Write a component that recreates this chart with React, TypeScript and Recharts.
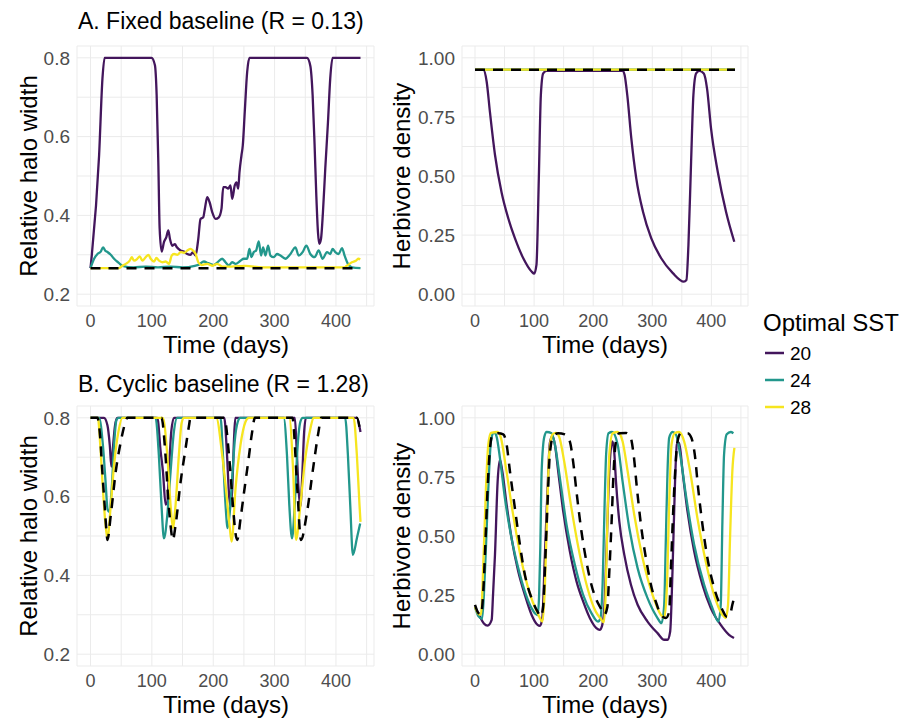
import React from 'react';
import { LineChart, Line, XAxis, YAxis, CartesianGrid } from 'recharts';

type Pt = [number, number];

// ---------- tick values ----------
const xTicks = [0, 50, 100, 150, 200, 250, 300, 350, 400, 450];
const haloTicks = [0.2, 0.3, 0.4, 0.5, 0.6, 0.7, 0.8];
const herbTicks = [0, 0.125, 0.25, 0.375, 0.5, 0.625, 0.75, 0.875, 1];
const sstLevels = ['20', '24', '28'];
const sstColors = ['#43165c', '#22978c', '#f6e51f'];

// ---------- A. Fixed baseline : relative halo width ----------
const fixedHalo20: Pt[] = [[0,0.266],[14,0.552],[19.5,0.748],[23,0.8],[99.5,0.8],[105,0.781],[107.8,0.705],[110.5,0.535],[112.7,0.366],[116,0.308],[119.7,0.332],[123.6,0.345],[126.8,0.362],[129.5,0.34],[133.3,0.323],[137.6,0.327],[140.8,0.319],[146.8,0.311],[152.2,0.308],[157.7,0.302],[163,0.3],[166.9,0.307],[171.2,0.298],[175.6,0.34],[179.3,0.391],[183.7,0.395],[186.4,0.417],[190.2,0.446],[194,0.434],[198.4,0.408],[203.7,0.391],[209.1,0.395],[213.5,0.417],[216.3,0.472],[220,0.472],[224.4,0.468],[228.1,0.476],[230.9,0.442],[235.1,0.476],[237.9,0.484],[240.7,0.468],[242.8,0.51],[246,0.552],[248.2,0.578],[251.4,0.663],[255.3,0.764],[259,0.8],[352.8,0.8],[358.2,0.78],[362,0.705],[365.2,0.578],[368,0.45],[370.7,0.357],[372.8,0.328],[375.6,0.34],[378.8,0.408],[382.6,0.519],[387,0.637],[390.7,0.748],[394.5,0.8],[440,0.8]];
const fixedHalo24: Pt[] = [[0,0.266],[5.9,0.29],[11.4,0.302],[16.7,0.308],[20.5,0.319],[23.8,0.311],[27.6,0.307],[33,0.3],[38.4,0.29],[46.5,0.279],[52,0.272],[70,0.268],[90,0.27],[110,0.268],[130,0.27],[150,0.268],[170,0.272],[176.6,0.275],[184.7,0.283],[191.7,0.279],[200.9,0.274],[206.3,0.28],[214.6,0.29],[220,0.281],[225.4,0.273],[230.9,0.281],[236.3,0.277],[244.4,0.285],[249.8,0.29],[255.3,0.29],[259,0.315],[262.3,0.294],[266.1,0.307],[269.9,0.311],[274.2,0.334],[278,0.298],[281.3,0.319],[285.1,0.298],[289.4,0.323],[293.2,0.298],[298.6,0.294],[304,0.302],[309.5,0.298],[317.6,0.29],[325.8,0.302],[333.9,0.319],[339.3,0.298],[345.8,0.307],[351.8,0.323],[358.2,0.302],[365.3,0.294],[371.8,0.311],[378.3,0.29],[385.4,0.307],[390.8,0.302],[394.5,0.315],[398.9,0.307],[404.3,0.302],[409.8,0.317],[414.1,0.298],[419.5,0.277],[426,0.268],[440,0.266]];
const fixedHalo28: Pt[] = [[0,0.266],[46,0.266],[52,0.272],[57.4,0.277],[63.9,0.285],[67.2,0.294],[71,0.285],[76.4,0.29],[80.2,0.296],[84.6,0.285],[90,0.294],[94.3,0.3],[98.1,0.29],[103.6,0.283],[107.4,0.292],[111.7,0.285],[117.1,0.281],[122.5,0.283],[128,0.277],[132.3,0.298],[136.1,0.302],[141.5,0.3],[147,0.307],[152.4,0.305],[157.8,0.311],[163.3,0.315],[167,0.311],[171.4,0.302],[175.7,0.281],[181.1,0.274],[190.3,0.277],[198.4,0.272],[206.5,0.277],[214.6,0.27],[230,0.27],[252.6,0.272],[280,0.268],[320,0.268],[360,0.268],[414,0.268],[417.7,0.272],[426,0.281],[432.5,0.285],[436.8,0.29],[439.5,0.288]];
const fixedHaloBase: Pt[] = [[0,0.266],[440,0.266]];

// ---------- A. Fixed baseline : herbivore density ----------
const fixedHerb20: Pt[] = [[0,0.95],[14,0.95],[19.7,0.9],[25.3,0.77],[33.8,0.59],[45,0.43],[56.4,0.32],[67.5,0.237],[81.7,0.152],[95.7,0.096],[100.2,0.087],[104,0.124],[108,0.49],[111.4,0.84],[115.4,0.934],[121,0.945],[250,0.945],[253.2,0.927],[257.7,0.842],[264.5,0.66],[272.9,0.49],[284.2,0.35],[298.2,0.237],[315.1,0.152],[334.8,0.089],[353.4,0.053],[357.8,0.06],[361.2,0.208],[365.7,0.56],[369.6,0.842],[374.2,0.934],[379.7,0.945],[387.2,0.934],[392.7,0.87],[399.5,0.7],[410.8,0.518],[424.8,0.349],[438.8,0.222]];
const fixedHerb24: Pt[] = [[0,0.95],[440,0.95]];
const fixedHerb28: Pt[] = [[0,0.95],[440,0.95]];
const fixedHerbBase: Pt[] = [[0,0.95],[440,0.95]];

// ---------- B. Cyclic baseline : relative halo width ----------
const cyclicHalo20: Pt[] = [[0,0.8],[22,0.8],[27.6,0.781],[31.4,0.731],[34.1,0.676],[36.9,0.731],[40,0.781],[43.7,0.8],[108.9,0.8],[114.3,0.715],[118.1,0.663],[122.4,0.58],[125.2,0.585],[127.8,0.663],[131.6,0.765],[136,0.8],[218,0.8],[222,0.72],[226,0.6],[228.5,0.575],[231,0.62],[234,0.75],[236,0.8],[333,0.8],[336,0.72],[339,0.62],[342,0.575],[345,0.65],[348,0.76],[351,0.8],[434,0.8],[440,0.764]];
const cyclicHalo24: Pt[] = [[0,0.8],[14,0.8],[20.2,0.731],[24.6,0.637],[27.6,0.57],[30,0.562],[34.6,0.62],[38.4,0.731],[42.2,0.794],[45.5,0.8],[106,0.8],[111.4,0.705],[115.7,0.578],[119.7,0.494],[125.1,0.552],[130.5,0.663],[135.9,0.765],[141.3,0.8],[211.9,0.8],[216,0.7],[220,0.58],[223.5,0.52],[227,0.56],[231,0.65],[235,0.74],[240,0.79],[244,0.8],[314.8,0.8],[320.2,0.705],[324,0.578],[328.4,0.494],[332.8,0.578],[336.6,0.705],[342,0.79],[345.8,0.8],[415,0.8],[419.5,0.705],[423.3,0.578],[427.6,0.452],[434.1,0.494],[439.5,0.532]];
const cyclicHalo28: Pt[] = [[0,0.8],[12,0.8],[15.9,0.731],[20.2,0.62],[24.6,0.527],[27.6,0.494],[33,0.578],[38.4,0.68],[45.5,0.765],[52,0.8],[118,0.8],[125.1,0.705],[130.5,0.578],[134.2,0.521],[138.6,0.578],[144,0.705],[148.4,0.786],[152,0.8],[205,0.8],[215,0.7],[222,0.6],[227,0.52],[230,0.486],[236.3,0.62],[244.4,0.731],[252.6,0.79],[258,0.8],[324,0.8],[330.3,0.663],[335,0.49],[342,0.578],[350,0.697],[358,0.77],[363.5,0.8],[428.7,0.8],[434.1,0.705],[438.4,0.578],[440,0.536]];
const cyclicHaloBase: Pt[] = [[0,0.8],[11.4,0.8],[15,0.765],[19.3,0.663],[23,0.578],[25.7,0.519],[27.6,0.49],[33,0.552],[41.1,0.663],[49.3,0.739],[56.3,0.786],[60.1,0.8],[115.7,0.8],[122.2,0.705],[126.6,0.595],[130.5,0.527],[134.2,0.49],[138.6,0.527],[146.8,0.637],[154.9,0.722],[160.3,0.778],[163,0.8],[218,0.8],[226,0.7],[232,0.58],[236,0.51],[239,0.49],[245,0.55],[251,0.62],[258,0.7],[263,0.76],[268,0.8],[329,0.8],[337,0.62],[343,0.49],[352.8,0.56],[363.5,0.68],[371.6,0.765],[376,0.8],[434,0.8],[440,0.76]];

// ---------- B. Cyclic baseline : herbivore density ----------
const cyclicHerb20: Pt[] = [[0,0.2],[8,0.16],[15,0.13],[21.4,0.121],[28.2,0.145],[30.5,0.25],[33.8,0.42],[38.3,0.73],[42.2,0.823],[46.2,0.774],[53.5,0.633],[61.9,0.49],[73.2,0.35],[84.4,0.251],[95.7,0.167],[105.9,0.124],[109.8,0.12],[113.8,0.15],[118.3,0.42],[122.8,0.7],[126.7,0.894],[130.7,0.922],[135.2,0.887],[140.8,0.774],[149.3,0.604],[160.5,0.435],[171.8,0.308],[183,0.223],[194.3,0.153],[205.4,0.11],[211,0.103],[215,0.12],[219,0.2],[222,0.4],[226,0.7],[229.5,0.86],[232.5,0.9],[235.5,0.86],[238.6,0.73],[244.2,0.562],[252.7,0.42],[263.9,0.294],[275.2,0.209],[292,0.138],[308.9,0.089],[320.2,0.061],[325.8,0.061],[330.3,0.096],[334.2,0.35],[338.2,0.703],[341.6,0.887],[345.5,0.894],[351.2,0.774],[359.6,0.604],[370.9,0.435],[384.9,0.294],[399,0.195],[415.9,0.124],[429.9,0.082],[438.3,0.068]];
const cyclicHerb24: Pt[] = [[0,0.2],[6,0.16],[12,0.15],[15,0.25],[18,0.42],[22.5,0.7],[27,0.9],[31,0.935],[34,0.935],[36.6,0.92],[42.2,0.83],[50.6,0.66],[61.9,0.49],[73.2,0.364],[84.4,0.265],[95.7,0.195],[102.5,0.17],[106,0.165],[108.5,0.25],[110.5,0.45],[112.8,0.774],[117.3,0.92],[121.2,0.94],[129.7,0.935],[135.2,0.887],[143.6,0.746],[154.9,0.548],[169,0.378],[183,0.251],[197,0.174],[208.2,0.138],[212,0.15],[216,0.3],[219,0.6],[222,0.85],[226,0.935],[232,0.94],[241.4,0.887],[249.8,0.73],[261.1,0.534],[275.2,0.364],[292,0.237],[308.9,0.153],[315.6,0.131],[320.2,0.209],[323,0.49],[325.8,0.774],[328.6,0.915],[334.2,0.94],[339.9,0.93],[347.2,0.845],[356.8,0.675],[370.9,0.463],[387.7,0.294],[401.8,0.195],[411.9,0.138],[415.9,0.209],[418.7,0.562],[421.5,0.845],[426,0.93],[432.8,0.94],[437.3,0.935]];
const cyclicHerb28: Pt[] = [[0,0.2],[6,0.17],[10,0.167],[14.6,0.42],[18.5,0.7],[22.5,0.887],[27,0.936],[38.3,0.94],[43.9,0.915],[52.4,0.788],[63.6,0.604],[77.7,0.407],[91.7,0.265],[105.8,0.174],[114.3,0.138],[118.2,0.28],[121.6,0.562],[125.5,0.845],[131.2,0.93],[136.8,0.936],[142.4,0.92],[150.9,0.816],[162.2,0.633],[176.2,0.435],[190.3,0.28],[204.4,0.18],[212.8,0.15],[218,0.135],[221,0.25],[223.4,0.49],[227.3,0.845],[233,0.935],[241.4,0.94],[249.8,0.9],[258.3,0.774],[269.5,0.59],[283.6,0.407],[300.5,0.251],[314.5,0.167],[320.2,0.153],[324.7,0.28],[328.6,0.633],[332.6,0.887],[338.2,0.936],[345.5,0.94],[353.9,0.9],[364,0.774],[376.4,0.576],[390.5,0.392],[404.6,0.251],[418.6,0.167],[424.3,0.153],[428.2,0.209],[431.6,0.49],[435.5,0.774],[439,0.873]];
const cyclicHerbBase: Pt[] = [[0,0.209],[5.7,0.174],[10.2,0.167],[14,0.265],[17.9,0.49],[21.3,0.7],[25.3,0.87],[29.8,0.93],[39.4,0.935],[47.8,0.93],[53.5,0.887],[59.1,0.774],[67.5,0.618],[76,0.463],[84.4,0.336],[95.7,0.237],[105.9,0.18],[111.4,0.159],[115.3,0.2],[119.3,0.42],[122.7,0.633],[126.6,0.845],[132.3,0.922],[140.7,0.935],[152,0.93],[160.4,0.9],[166,0.816],[171.7,0.689],[180.1,0.52],[188.5,0.392],[197,0.294],[205.4,0.23],[212.7,0.195],[218.9,0.167],[224,0.2],[227.3,0.35],[231.2,0.562],[234.6,0.774],[238.5,0.9],[244.2,0.935],[255.4,0.936],[262.8,0.922],[268.4,0.845],[274,0.703],[280.8,0.548],[289.2,0.407],[297.7,0.294],[307.8,0.209],[314.5,0.167],[323,0.153],[328.6,0.18],[331.4,0.35],[335.4,0.604],[338.8,0.774],[342.7,0.9],[348.4,0.935],[359.6,0.935],[366.3,0.915],[371.9,0.845],[377.6,0.703],[384.9,0.548],[393.3,0.407],[401.8,0.308],[410.2,0.237],[418.6,0.188],[425.9,0.159],[431.6,0.167],[435.5,0.209],[438.3,0.237]];

const FONT = '"Liberation Sans", Arial, Helvetica, sans-serif';
const toRows = (pts: Pt[]) => pts.map(([t, v]) => ({ t, v }));

const fmtX = (v: number) => (Math.round(v) % 100 === 0 ? String(v) : '');
const fmtHalo = (v: number) => {
  const k = Math.round(v * 10);
  return k % 2 === 0 ? (k / 10).toFixed(1) : '';
};
const fmtHerb = (v: number) => {
  const k = Math.round(v * 8);
  return k % 2 === 0 ? v.toFixed(2) : '';
};

type PanelProps = {
  left: number;
  top: number;
  width: number;
  yAxisWidth: number;
  kind: 'halo' | 'herb';
  series: Pt[][];
  base: Pt[];
};

function Panel({ left, top, width, yAxisWidth, kind, series, base }: PanelProps) {
  const isHalo = kind === 'halo';
  return (
    <div style={{ position: 'absolute', left, top }}>
      <LineChart width={width} height={300} margin={{ top: 6, right: 6, bottom: 4, left: 0 }}>
        <CartesianGrid stroke="#ebebeb" strokeWidth={1} />
        <XAxis
          type="number"
          dataKey="t"
          domain={[-22, 462]}
          ticks={xTicks}
          interval={0}
          allowDataOverflow
          tickFormatter={fmtX}
          axisLine={false}
          tickLine={false}
          tickMargin={2}
          height={30}
          tick={{ fontSize: 18, fill: '#4d4d4d', fontFamily: FONT }}
        />
        <YAxis
          type="number"
          domain={isHalo ? [0.17, 0.83] : [-0.05, 1.05]}
          ticks={isHalo ? haloTicks : herbTicks}
          interval={0}
          allowDataOverflow
          tickFormatter={isHalo ? fmtHalo : fmtHerb}
          axisLine={false}
          tickLine={false}
          tickMargin={1}
          width={yAxisWidth}
          tick={{ fontSize: 19, fill: '#4d4d4d', fontFamily: FONT }}
        />
        {series.map((pts, i) => (
          <Line
            key={sstLevels[i]}
            data={toRows(pts)}
            dataKey="v"
            type="monotone"
            stroke={sstColors[i]}
            strokeWidth={2.3}
            dot={false}
            activeDot={false}
            isAnimationActive={false}
          />
        ))}
        <Line
          data={toRows(base)}
          dataKey="v"
          type="monotone"
          stroke="#000000"
          strokeWidth={2.5}
          strokeDasharray="10 8"
          dot={false}
          activeDot={false}
          isAnimationActive={false}
        />
      </LineChart>
    </div>
  );
}

export default function App() {
  const axisTitle = { fontSize: 24, fill: '#000', fontFamily: FONT } as const;
  return (
    <div style={{ position: 'absolute', left: 0, top: 0, width: 904, height: 721, background: '#fff', fontFamily: FONT }}>
      <Panel left={0} top={40} width={380} yAxisWidth={77} kind="halo" series={[fixedHalo20, fixedHalo24, fixedHalo28]} base={fixedHaloBase} />
      <Panel left={380} top={40} width={374} yAxisWidth={82} kind="herb" series={[fixedHerb20, fixedHerb24, fixedHerb28]} base={fixedHerbBase} />
      <Panel left={0} top={400} width={380} yAxisWidth={77} kind="halo" series={[cyclicHalo20, cyclicHalo24, cyclicHalo28]} base={cyclicHaloBase} />
      <Panel left={380} top={400} width={374} yAxisWidth={82} kind="herb" series={[cyclicHerb20, cyclicHerb24, cyclicHerb28]} base={cyclicHerbBase} />
      <svg width={904} height={721} style={{ position: 'absolute', left: 0, top: 0, pointerEvents: 'none' }}>
        <text x={78} y={29} fontSize={23} fontFamily={FONT} fill="#000">A. Fixed baseline (R = 0.13)</text>
        <text x={78} y={392} fontSize={23} fontFamily={FONT} fill="#000">B. Cyclic baseline (R = 1.28)</text>

        <text x={226} y={353} textAnchor="middle" {...axisTitle}>Time (days)</text>
        <text x={605} y={353} textAnchor="middle" {...axisTitle}>Time (days)</text>
        <text x={226} y={713} textAnchor="middle" {...axisTitle}>Time (days)</text>
        <text x={605} y={713} textAnchor="middle" {...axisTitle}>Time (days)</text>

        <text transform="translate(37,176) rotate(-90)" textAnchor="middle" {...axisTitle}>Relative halo width</text>
        <text transform="translate(410,176) rotate(-90)" textAnchor="middle" {...axisTitle}>Herbivore density</text>
        <text transform="translate(37,536) rotate(-90)" textAnchor="middle" {...axisTitle}>Relative halo width</text>
        <text transform="translate(410,536) rotate(-90)" textAnchor="middle" {...axisTitle}>Herbivore density</text>

        <text x={763} y={331} fontSize={24} fontFamily={FONT} fill="#000">Optimal SST</text>
        {sstLevels.map((lvl, i) => (
          <g key={lvl}>
            <line x1={765} x2={784} y1={353 + i * 27} y2={353 + i * 27} stroke={sstColors[i]} strokeWidth={2.5} />
            <text x={790} y={360 + i * 27} fontSize={19} fontFamily={FONT} fill="#000">{lvl}</text>
          </g>
        ))}
      </svg>
    </div>
  );
}
